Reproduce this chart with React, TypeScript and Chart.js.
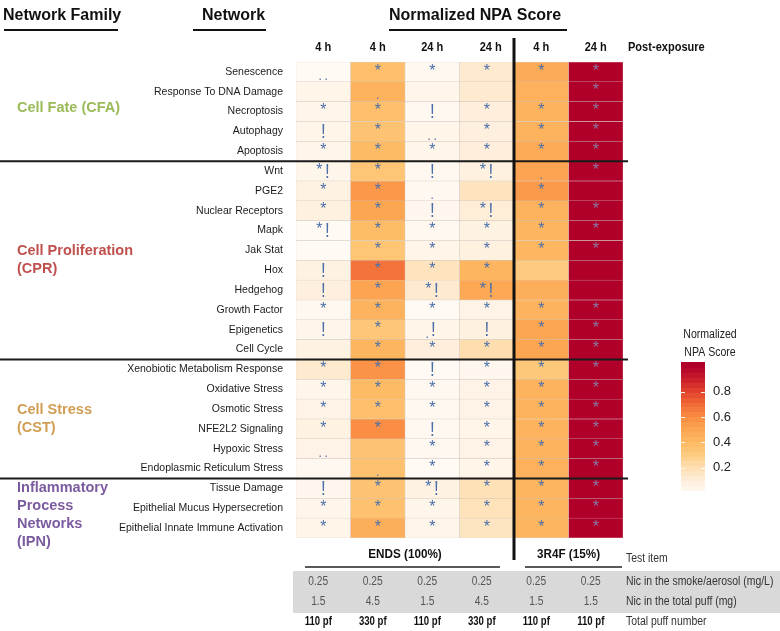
import React, { useEffect, useRef } from "react";
import { Chart, registerables } from "chart.js";
Chart.register(...registerables);

// ---------- data ----------
const networks = [
  "Senescence", "Response To DNA Damage", "Necroptosis", "Autophagy", "Apoptosis",
  "Wnt", "PGE2", "Nuclear Receptors", "Mapk", "Jak Stat", "Hox", "Hedgehog",
  "Growth Factor", "Epigenetics", "Cell Cycle",
  "Xenobiotic Metabolism Response", "Oxidative Stress", "Osmotic Stress",
  "NFE2L2 Signaling", "Hypoxic Stress", "Endoplasmic Reticulum Stress",
  "Tissue Damage", "Epithelial Mucus Hypersecretion", "Epithelial Innate Immune Activation",
];
const familyNames = [["Cell Fate (CFA)"], ["Cell Proliferation", "(CPR)"], ["Cell Stress", "(CST)"], ["Inflammatory", "Process", "Networks", "(IPN)"]];
const familyLastRow = [4, 14, 20, 23];

const timeLabels = ["4 h", "4 h", "24 h", "24 h", "4 h", "24 h"];
const testItems = ["ENDS (100%)", "3R4F (15%)"];
const nicSmoke = ["0.25", "0.25", "0.25", "0.25", "0.25", "0.25"];
const nicPuff = ["1.5", "4.5", "1.5", "4.5", "1.5", "1.5"];
const puffNumber = ["110 pf", "330 pf", "110 pf", "330 pf", "110 pf", "110 pf"];
const rowTitles = ["Test item", "Nic in the smoke/aerosol (mg/L)", "Nic in the total puff (mg)", "Total puff number"];
const colorbarTicks = [0.2, 0.4, 0.6, 0.8];

const endsH4Pf110 = [0.01, 0.05, 0.04, 0.05, 0.04, 0.04, 0.07, 0.08, 0.01, 0.01, 0.07, 0.09, 0.02, 0.04, 0.07, 0.13, 0.04, 0.06, 0.07, 0.06, 0.02, 0.03, 0.04, 0.05];
const endsH4Pf330 = [0.38, 0.44, 0.38, 0.36, 0.4, 0.35, 0.56, 0.5, 0.39, 0.35, 0.68, 0.51, 0.44, 0.34, 0.43, 0.58, 0.4, 0.38, 0.6, 0.36, 0.37, 0.36, 0.37, 0.46];
const endsH24Pf110 = [0.02, 0.04, 0.02, 0.05, 0.04, 0.02, 0.02, 0.03, 0.02, 0.05, 0.17, 0.13, 0.01, 0.05, 0.1, 0.01, 0.02, 0.02, 0.02, 0.02, 0.01, 0.07, 0.04, 0.04];
const endsH24Pf330 = [0.13, 0.13, 0.1, 0.09, 0.1, 0.08, 0.17, 0.11, 0.07, 0.08, 0.43, 0.49, 0.06, 0.08, 0.21, 0.03, 0.06, 0.06, 0.05, 0.06, 0.05, 0.19, 0.18, 0.16];
const ref3r4fH4 = [0.47, 0.45, 0.44, 0.44, 0.48, 0.51, 0.55, 0.44, 0.43, 0.42, 0.32, 0.46, 0.44, 0.5, 0.5, 0.33, 0.44, 0.44, 0.44, 0.44, 0.45, 0.43, 0.43, 0.43];
const ref3r4fH24 = [1, 1, 1, 1, 1, 1, 1, 1, 1, 1, 1, 1, 1, 1, 1, 1, 1, 1, 1, 1, 1, 1, 1, 1];

const marksEndsH4Pf110 = ["..", "", "*", "!", "*", "*!", "*", "*", "*!", "", "!", "!", "*", "!", "", "*", "*", "*", "*", "..", "", "!", "*", "*"];
const marksEndsH4Pf330 = ["*", ".", "*", "*", "*", "*", "*", "*", "*", "*", "*", "*", "*", "*", "*", "*", "*", "*", "*", "", ".", "*", "*", "*"];
const marksEndsH24Pf110 = ["*", "", "!", "..", "*", "!", ".", "!", "*", "*", "*", "*!", "*", ".!", "*", "!", "*", "*", "!", "*", "*", "*!", "*", "*"];
const marksEndsH24Pf330 = ["*", "", "*", "*", "*", "*!", "", "*!", "*", "*", "*", "*!", "*", "!", "*", "*", "*", "*", "*", "*", "*", "*", "*", "*"];
const marks3r4fH4 = ["*", "", "*", "*", "*", ".", "*", "*", "*", "*", "", "", "*", "*", "*", "*", "*", "*", "*", "*", "*", "*", "*", "*"];
const marks3r4fH24 = ["*", "*", "*", "*", "*", "*", "", "*", "*", "*", "", "", "*", "*", "*", "*", "*", "*", "*", "*", "*", "*", "*", "*"];

const scoreColumns = [endsH4Pf110, endsH4Pf330, endsH24Pf110, endsH24Pf330, ref3r4fH4, ref3r4fH24];
const markColumns = [marksEndsH4Pf110, marksEndsH4Pf330, marksEndsH24Pf110, marksEndsH24Pf330, marks3r4fH4, marks3r4fH24];

// ---------- style ----------
const FONT = "'Liberation Sans', Arial, Helvetica, sans-serif";
const familyColors = ["#9bbb59", "#c0504d", "#d19d52", "#7b5b9f"];
const cmapStops: [number, string][] = [
  [0, "#fffbf6"], [0.1, "#feeedb"], [0.2, "#fedfb2"], [0.3, "#fece85"], [0.4, "#fdbb65"],
  [0.5, "#fca652"], [0.6, "#fa8e44"], [0.7, "#f26c37"], [0.8, "#e4452e"], [0.9, "#cb1f2b"], [1, "#b0002a"],
];
function hexToRgb(h: string) {
  return [parseInt(h.slice(1, 3), 16), parseInt(h.slice(3, 5), 16), parseInt(h.slice(5, 7), 16)];
}
function cmap(v: number) {
  const t = Math.max(0, Math.min(1, v));
  for (let i = 0; i < cmapStops.length - 1; i++) {
    const [a, ca] = cmapStops[i];
    const [b, cb] = cmapStops[i + 1];
    if (t <= b) {
      const f = (t - a) / (b - a);
      const A = hexToRgb(ca), B = hexToRgb(cb);
      const c = A.map((x, k) => Math.round(x + (B[k] - x) * f));
      return `rgb(${c[0]},${c[1]},${c[2]})`;
    }
  }
  return cmapStops[cmapStops.length - 1][1];
}

function text(ctx: CanvasRenderingContext2D, s: string, x: number, y: number, font: string, color: string, align: CanvasTextAlign = "left", sx = 1, baseline: CanvasTextBaseline = "middle") {
  ctx.save();
  ctx.font = font;
  ctx.fillStyle = color;
  ctx.textAlign = align;
  ctx.textBaseline = baseline;
  ctx.translate(x, y);
  ctx.scale(sx, 1);
  ctx.fillText(s, 0, 0);
  ctx.restore();
}
function hline(ctx: CanvasRenderingContext2D, x1: number, x2: number, y: number, w: number, color: string) {
  ctx.save();
  ctx.strokeStyle = color;
  ctx.lineWidth = w;
  ctx.beginPath();
  ctx.moveTo(x1, y);
  ctx.lineTo(x2, y);
  ctx.stroke();
  ctx.restore();
}

function drawMark(ctx: CanvasRenderingContext2D, m: string, cx: number, top: number, color: string) {
  const star = (x: number) => text(ctx, "*", x, top + 13.5, `16px ${FONT}`, color, "center", 1, "alphabetic");
  const bang = (x: number) => text(ctx, "!", x, top + 16.5, `20px ${FONT}`, color, "center", 0.85, "alphabetic");
  const dot = (x: number, dy: number) => text(ctx, ".", x, top + dy, `12px ${FONT}`, color, "center", 1, "alphabetic");
  switch (m) {
    case "*": star(cx); break;
    case "!": bang(cx); break;
    case "*!": star(cx - 4); bang(cx + 4); break;
    case "..": dot(cx - 3, 18); dot(cx + 3, 18); break;
    case ".": dot(cx, 17.5); break;
    case ".!": dot(cx - 5, 18); bang(cx + 1); break;
  }
}

const overlayPlugin = {
  id: "overlay",
  afterDatasetsDraw(chart: any) {
    const ctx = chart.ctx as CanvasRenderingContext2D;
    chart.data.datasets.forEach((_ds: any, c: number) => {
      const meta = chart.getDatasetMeta(c);
      meta.data.forEach((el: any, r: number) => {
        const p = el.getProps(["x", "y", "base", "height"], true);
        const cx = (p.x + p.base) / 2;
        const top = p.y - p.height / 2;
        drawMark(ctx, markColumns[c][r], cx, top, c === 5 ? "#8a7aa5" : "#4a6faa");
      });
    });
  },
  afterDraw(chart: any) {
    const ctx = chart.ctx as CanvasRenderingContext2D;
    const xs = chart.scales.x;
    const ys = chart.scales.y;
    const area = chart.chartArea;
    const colC = (c: number) => xs.getPixelForValue(c + 0.5);

    // top titles
    text(ctx, "Network Family", 3, 19.5, `bold 16px ${FONT}`, "#111", "left", 1, "alphabetic");
    hline(ctx, 4, 118, 30, 2, "#111");
    text(ctx, "Network", 202, 19.5, `bold 16px ${FONT}`, "#111", "left", 1, "alphabetic");
    hline(ctx, 193, 266, 30, 2, "#111");
    text(ctx, "Normalized NPA Score", 389, 19.5, `bold 16px ${FONT}`, "#111", "left", 1, "alphabetic");
    hline(ctx, 389, 567, 30, 2, "#111");

    // column headers
    timeLabels.forEach((t, c) => {
      text(ctx, t, colC(c) + (c === 3 ? 4 : 0), 47, `bold 13px ${FONT}`, "#111", "center", 0.85);
    });
    text(ctx, "Post-exposure", area.right + 5, 47, `bold 13px ${FONT}`, "#111", "left", 0.85);

    // family separators
    familyLastRow.slice(0, 3).forEach((r) => {
      const y = (ys.getPixelForValue(r) + ys.getPixelForValue(r + 1)) / 2;
      hline(ctx, 0, area.right + 5, y, 2, "#1a1a1a");
    });

    // family labels
    familyNames.forEach((lines, f) => {
      const first = f === 0 ? 0 : familyLastRow[f - 1] + 1;
      const last = familyLastRow[f];
      const mid = (ys.getPixelForValue(first) + ys.getPixelForValue(last)) / 2;
      const lh = 18;
      let y0 = mid - ((lines.length - 1) * lh) / 2;
      if (f === 0) y0 = mid - 4;
      if (f === 3) y0 = mid - 20;
      lines.forEach((s, i) => {
        text(ctx, s, 17, y0 + i * lh, `bold 14.5px ${FONT}`, familyColors[f], "left", 1);
      });
    });

    // vertical divider
    ctx.save();
    ctx.strokeStyle = "#111";
    ctx.lineWidth = 3;
    ctx.beginPath();
    const xv = xs.getPixelForValue(4);
    ctx.moveTo(xv, 38);
    ctx.lineTo(xv, 560);
    ctx.stroke();
    ctx.restore();

    // bottom table
    const endsC = (xs.getPixelForValue(0) + xs.getPixelForValue(4)) / 2;
    const refC = (xs.getPixelForValue(4) + xs.getPixelForValue(6)) / 2;
    text(ctx, testItems[0], endsC, 554, `bold 13px ${FONT}`, "#111", "center", 0.9);
    text(ctx, testItems[1], refC, 554, `bold 13px ${FONT}`, "#111", "center", 0.9);
    hline(ctx, xs.getPixelForValue(0) + 9, xs.getPixelForValue(4) - 14, 567, 1.5, "#222");
    hline(ctx, xs.getPixelForValue(4) + 11, xs.getPixelForValue(6) - 1, 567, 1.5, "#222");

    ctx.save();
    ctx.fillStyle = "#d9d9d9";
    ctx.fillRect(293, 571, 780 - 293, 42);
    ctx.restore();

    const tx = area.right + 3;
    text(ctx, rowTitles[0], tx, 559, `12px ${FONT}`, "#333", "left", 0.87);
    text(ctx, rowTitles[1], tx, 582, `12px ${FONT}`, "#333", "left", 0.87);
    text(ctx, rowTitles[2], tx, 602, `12px ${FONT}`, "#333", "left", 0.87);
    text(ctx, rowTitles[3], tx, 622, `12px ${FONT}`, "#333", "left", 0.87);
    for (let c = 0; c < 6; c++) {
      const x = colC(c) - 5;
      text(ctx, nicSmoke[c], x, 582, `12px ${FONT}`, "#555", "center", 0.85);
      text(ctx, nicPuff[c], x, 602, `12px ${FONT}`, "#555", "center", 0.85);
      text(ctx, puffNumber[c], x, 622, `bold 12px ${FONT}`, "#111", "center", 0.8);
    }

    // colorbar
    const cbL = 681, cbR = 705;
    const yOf = (v: number) => 493 - v * 126.5;
    const vMin = 0.02, vMax = 1.03, steps = 26;
    for (let i = 0; i < steps; i++) {
      const v0 = vMin + ((vMax - vMin) * i) / steps;
      const v1 = vMin + ((vMax - vMin) * (i + 1)) / steps;
      ctx.fillStyle = cmap((v0 + v1) / 2);
      const ya = yOf(v1), yb = yOf(v0);
      ctx.fillRect(cbL, Math.floor(ya), cbR - cbL, Math.ceil(yb) - Math.floor(ya));
    }
    colorbarTicks.forEach((v) => {
      const y = Math.round(yOf(v)) + 0.5;
      hline(ctx, cbL, cbL + 4, y, 1, "rgba(255,255,255,0.9)");
      hline(ctx, cbR - 4, cbR, y, 1, "rgba(255,255,255,0.9)");
      text(ctx, v.toFixed(1), 713, yOf(v), `13px ${FONT}`, "#222", "left", 1);
    });
    text(ctx, "Normalized", 710, 335, `12px ${FONT}`, "#222", "center", 0.88);
    text(ctx, "NPA Score", 710, 353, `12px ${FONT}`, "#222", "center", 0.88);
  },
};

export default function App() {
  const ref = useRef<HTMLCanvasElement>(null);
  useEffect(() => {
    if (!ref.current) return;
    const chart = new Chart(ref.current, {
      type: "bar",
      data: {
        labels: networks,
        datasets: scoreColumns.map((vals, c) => ({
          label: `${timeLabels[c]} ${puffNumber[c]}`,
          data: networks.map(() => 1),
          backgroundColor: vals.map(cmap),
          borderColor: "rgba(190,172,160,0.55)",
          borderWidth: 0.5,
          borderSkipped: false,
          barPercentage: 1,
          categoryPercentage: 1,
        })),
      },
      options: {
        indexAxis: "y",
        responsive: false,
        animation: false,
        devicePixelRatio: 1,
        layout: { padding: { left: 0, right: 157, top: 62, bottom: 93 } },
        plugins: { legend: { display: false }, tooltip: { enabled: false } },
        scales: {
          x: { display: false, stacked: true, min: 0, max: 6 },
          y: {
            stacked: true,
            grid: { display: false, drawTicks: false },
            border: { display: false },
            ticks: { autoSkip: false, padding: 13, color: "#1a1a1a", font: { family: FONT, size: 10.5 } },
            afterFit: (s: any) => { s.width = 296; },
          },
        },
      },
      plugins: [overlayPlugin],
    } as any);
    return () => chart.destroy();
  }, []);
  return (
    <div style={{ position: "fixed", left: 0, top: 0, width: 780, height: 631, background: "#fff" }}>
      <canvas ref={ref} width={780} height={631} style={{ display: "block", width: 780, height: 631 }} />
    </div>
  );
}
